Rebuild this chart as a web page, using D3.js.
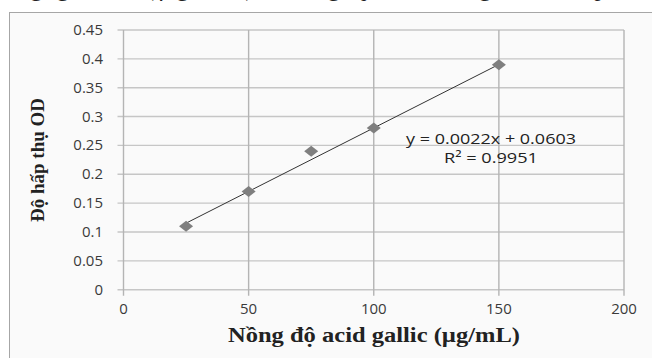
<!DOCTYPE html>
<html><head><meta charset="utf-8">
<script src="https://cdn.jsdelivr.net/npm/d3@7"></script>
<style>body{margin:0;background:#fff;}svg{display:block;}</style>
</head><body>
<svg id="c" width="652" height="358"></svg>
<script>
const concentrations = [25, 50, 75, 100, 150];
const absorbance = [0.11, 0.17, 0.24, 0.28, 0.39];
const xTicks = [0, 50, 100, 150, 200];
const yTicks = [0, 0.05, 0.1, 0.15, 0.2, 0.25, 0.3, 0.35, 0.4, 0.45];
const slope = 0.0022, intercept = 0.0603;
const eqText = "y = 0.0022x + 0.0603";
const r2Text = "R² = 0.9951";

const svg = d3.select("#c");
// cropped line of body text above the figure (only descenders visible)
svg.append("text").attr("x", 14).attr("y", -4.5)
  .attr("font-family", "Liberation Serif").attr("font-size", 24)
  .attr("fill", "#222")
  .attr("textLength", 625).attr("lengthAdjust", "spacing")
  .text("ng gallic (µg/mL) thông qua đường chuẩn phổ");
svg.append("rect").attr("x", 9.5).attr("y", 12.5).attr("width", 700).attr("height", 400)
  .attr("fill", "#fafafa").attr("stroke", "#a6a6a6").attr("stroke-width", 1);

const x = d3.scaleLinear().domain([0, 200]).range([123.5, 624]);
const y = d3.scaleLinear().domain([0, 0.45]).range([289.7, 30]);

const g = svg.append("g");
g.selectAll("line.h").data(yTicks).join("line")
  .attr("x1", x(0) - 6).attr("x2", x(200))
  .attr("y1", d => y(d)).attr("y2", d => y(d))
  .attr("stroke", "#c6c6c6").attr("stroke-width", 1.4);
g.selectAll("line.v").data(xTicks).join("line")
  .attr("x1", d => x(d)).attr("x2", d => x(d))
  .attr("y1", y(0.45)).attr("y2", y(0) + 6)
  .attr("stroke", "#b4b4b4").attr("stroke-width", 1.4);

g.selectAll("text.yt").data(yTicks).join("text")
  .attr("x", 103).attr("y", d => y(d) + 5)
  .attr("text-anchor", "end").attr("font-family", "Open Sans").attr("font-size", 15)
  .attr("fill", "#3a3a3a").text(d => d);
g.selectAll("text.xt").data(xTicks).join("text")
  .attr("x", d => x(d)).attr("y", 314)
  .attr("text-anchor", "middle").attr("font-family", "Open Sans").attr("font-size", 15)
  .attr("fill", "#3a3a3a").text(d => d);

const x0 = d3.min(concentrations), x1 = d3.max(concentrations);
g.append("line")
  .attr("x1", x(x0)).attr("y1", y(slope * x0 + intercept))
  .attr("x2", x(x1)).attr("y2", y(slope * x1 + intercept))
  .attr("stroke", "#333").attr("stroke-width", 1);

g.selectAll("path.m").data(concentrations).join("path")
  .attr("transform", (d, i) => `translate(${x(d)},${y(absorbance[i])})`)
  .attr("d", "M0,-5.5L7,0L0,5.5L-7,0Z").attr("fill", "#7f7f7f");

g.append("text").attr("x", 491).attr("y", 144).attr("text-anchor", "middle")
  .attr("font-family", "Open Sans").attr("font-size", 15).attr("fill", "#222")
  .attr("textLength", 170).attr("lengthAdjust", "spacingAndGlyphs").text(eqText);
g.append("text").attr("x", 491).attr("y", 163).attr("text-anchor", "middle")
  .attr("font-family", "Open Sans").attr("font-size", 15).attr("fill", "#222")
  .attr("textLength", 94).attr("lengthAdjust", "spacingAndGlyphs").text(r2Text);

svg.append("text").attr("x", 374).attr("y", 342).attr("text-anchor", "middle")
  .attr("font-family", "Liberation Serif").attr("font-weight", "bold").attr("font-size", 20)
  .attr("fill", "#222").attr("textLength", 292).attr("lengthAdjust", "spacingAndGlyphs")
  .text("Nồng độ acid gallic (µg/mL)");
svg.append("text").attr("transform", "translate(44,160) rotate(-90)").attr("text-anchor", "middle")
  .attr("font-family", "Liberation Serif").attr("font-weight", "bold").attr("font-size", 18)
  .attr("fill", "#222").attr("textLength", 124).attr("lengthAdjust", "spacingAndGlyphs")
  .text("Độ hấp thụ OD");
</script>
</body></html>
